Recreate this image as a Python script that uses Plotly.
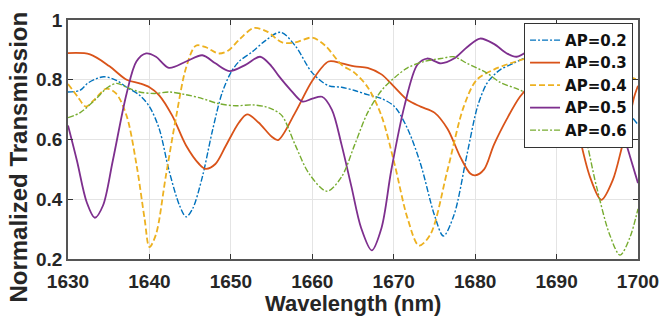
import plotly.graph_objects as go

# ---- data ----
wl_02 = [1630, 1631.5, 1632.5, 1634.4, 1636, 1637.2, 1638.8, 1640, 1641.2, 1642.4, 1643.7, 1644.5,
         1645.3, 1646.5, 1647.7, 1648.9, 1650, 1651, 1652.6, 1654.2, 1656.1, 1657.9, 1660, 1662,
         1663.6, 1665.2, 1666.8, 1668.5, 1670.1, 1671.7, 1673.3, 1675, 1676.1, 1677.4, 1679,
         1680.3, 1681.4, 1682.2, 1683.1, 1684.7, 1686.3, 1687.5, 1688.6, 1690.5, 1692.5, 1695,
         1698, 1700]
t_02 = [0.759, 0.765, 0.79, 0.81, 0.797, 0.775, 0.748, 0.71, 0.636, 0.497, 0.379, 0.341,
        0.368, 0.475, 0.625, 0.754, 0.824, 0.861, 0.893, 0.93, 0.959, 0.914, 0.823, 0.78,
        0.775, 0.764, 0.75, 0.737, 0.71, 0.636, 0.518, 0.347, 0.277, 0.347, 0.55,
        0.711, 0.786, 0.813, 0.834, 0.855, 0.877, 0.904, 0.936, 0.955, 0.94, 0.85,
        0.72, 0.65]

wl_03 = [1630, 1632.7, 1635.1, 1637.2, 1638.8, 1640, 1641.2, 1642.8, 1644.5, 1646.1, 1646.9,
         1648.1, 1649.4, 1651, 1652, 1653.4, 1655, 1655.8, 1657.9, 1660, 1662, 1663.6, 1665.2,
         1666.8, 1668.5, 1670.1, 1671.7, 1673.3, 1675, 1676.6, 1678.2, 1679.4, 1680, 1681.1,
         1682.3, 1683.9, 1685.5, 1687.1, 1688.6, 1690, 1691.5, 1692.6, 1694.1, 1695.5, 1696.9,
         1698.1, 1698.7, 1699.5, 1700]
t_03 = [0.889, 0.885, 0.845, 0.80, 0.788, 0.775, 0.748, 0.68, 0.58, 0.518, 0.502,
        0.518, 0.58, 0.657, 0.684, 0.657, 0.61, 0.598, 0.69, 0.797, 0.861, 0.855, 0.845,
        0.84, 0.818, 0.775, 0.732, 0.71, 0.69, 0.636, 0.54, 0.486, 0.48, 0.50,
        0.582, 0.669, 0.743, 0.791, 0.823, 0.835, 0.78, 0.636, 0.475, 0.398, 0.464,
        0.582, 0.636, 0.74, 0.78]

wl_04 = [1630, 1631.2, 1632.2, 1633.4, 1634.7, 1635.9, 1637.2, 1638.4, 1639.4, 1640, 1640.8,
         1642, 1643.3, 1644.5, 1645.7, 1646.9, 1648.5, 1649.7, 1651.1, 1652.8, 1654.4, 1656.3,
         1657.9, 1660, 1661.6, 1663.6, 1665.2, 1666.8, 1668.5, 1670.1, 1671.7, 1673.1, 1674.5,
         1676.6, 1678.6, 1680.2, 1682.3, 1684.3, 1686.3, 1688.6, 1691, 1694, 1697, 1700]
t_04 = [0.786, 0.743, 0.71, 0.738, 0.77, 0.754, 0.679, 0.518, 0.336, 0.24, 0.282,
        0.475, 0.679, 0.84, 0.914, 0.909, 0.888, 0.898, 0.936, 0.973, 0.962, 0.925,
        0.925, 0.941, 0.914, 0.85, 0.823, 0.775, 0.679, 0.518, 0.336, 0.245, 0.282,
        0.497, 0.71, 0.80, 0.834, 0.855, 0.871, 0.882, 0.89, 0.87, 0.83, 0.80]

wl_05 = [1630, 1631.1, 1632.3, 1633.3, 1634.3, 1635.5, 1637.2, 1638.4, 1639.6, 1640.8, 1642.4,
         1644.5, 1646.5, 1648.1, 1649.8, 1651.8, 1653.6, 1655, 1655.9, 1657.4, 1658.8, 1660,
         1661.2, 1662.4, 1663.6, 1664.8, 1666, 1667.3, 1668.5, 1669.7, 1671.3, 1672.9, 1674.1,
         1675.8, 1677.4, 1679, 1680.6, 1682.3, 1683.9, 1685.1, 1686.7, 1688.6, 1690.5, 1693,
         1695.5, 1697, 1698, 1699, 1700]
t_05 = [0.647, 0.529, 0.39, 0.338, 0.379, 0.529, 0.754, 0.861, 0.888, 0.877, 0.84,
        0.861, 0.882, 0.855, 0.829, 0.85, 0.877, 0.845, 0.812, 0.764, 0.727, 0.737,
        0.743, 0.70, 0.582, 0.443, 0.304, 0.229, 0.304, 0.497, 0.71, 0.85, 0.871,
        0.855, 0.871, 0.909, 0.938, 0.92, 0.888, 0.877, 0.9, 0.936, 0.945, 0.92,
        0.84, 0.74, 0.636, 0.545, 0.454]

wl_06 = [1630, 1631.5, 1633.3, 1634.9, 1636, 1637.2, 1638.8, 1640.6, 1642.4, 1644.5, 1646.5,
         1648.5, 1650.6, 1652.6, 1654.2, 1655.2, 1656.3, 1657.9, 1659.6, 1661.8, 1663.6, 1665.2,
         1666.8, 1668.5, 1670.1, 1671.7, 1673.7, 1675.8, 1677.4, 1679, 1681.4, 1683.1, 1685.1,
         1687.1, 1688.6, 1690.5, 1692, 1693.2, 1694.9, 1696.5, 1697.8, 1699, 1700]
t_06 = [0.673, 0.69, 0.732, 0.775, 0.788, 0.775, 0.759, 0.754, 0.759, 0.75, 0.737,
        0.72, 0.713, 0.716, 0.71, 0.70, 0.679, 0.582, 0.486, 0.427, 0.475, 0.582,
        0.69, 0.764, 0.807, 0.84, 0.861, 0.871, 0.877, 0.855, 0.823, 0.791, 0.77,
        0.748, 0.743, 0.73, 0.69, 0.636, 0.443, 0.283, 0.213, 0.272, 0.368]

labels = ["AP=0.2", "AP=0.3", "AP=0.4", "AP=0.5", "AP=0.6"]
x_ticks = [1630, 1640, 1650, 1660, 1670, 1680, 1690, 1700]
y_ticks = [0.2, 0.4, 0.6, 0.8, 1.0]
y_tick_text = ["0.2", "0.4", "0.6", "0.8", "1"]
x_title = "Wavelength (nm)"
y_title = "Normalized Transmission"

series = [(wl_02, t_02), (wl_03, t_03), (wl_04, t_04), (wl_05, t_05), (wl_06, t_06)]
colors = ["#0072BD", "#D95319", "#EDB120", "#7E2F8E", "#77AC30"]
dashes = ["6px,2px,2px,2px", "solid", "6px,3px", "solid", "6px,2px,2px,2px"]
widths = [1.4, 1.8, 1.8, 1.8, 1.4]

FONT = "Liberation Sans, Arial, sans-serif"
W, H = 669, 316
ML, MR, MT, MB = 68, 27, 10, 57
PW, PH = W - ML - MR, H - MT - MB

fig = go.Figure()
for (x, y), name, c, d, w in zip(series, labels, colors, dashes, widths):
    fig.add_trace(go.Scatter(
        x=x, y=y, mode="lines", name=name,
        line=dict(color=c, dash=d, width=w, shape="spline", smoothing=0.9),
    ))

axis_common = dict(
    showline=True, linecolor="#555555", linewidth=1.5, mirror="allticks",
    ticks="inside", ticklen=5, tickwidth=1.2, tickcolor="#333333",
    showgrid=True, gridcolor="#e4e4e4", gridwidth=1, zeroline=False,
    tickfont=dict(family=FONT, size=19, color="#262626", weight="bold"),
)

fig.update_layout(
    width=W, height=H,
    margin=dict(l=ML, r=MR, t=MT, b=MB),
    paper_bgcolor="white", plot_bgcolor="white",
    font=dict(family=FONT, color="#262626"),
    xaxis=dict(range=[1630, 1700], tickvals=x_ticks, ticklabelstandoff=4, **axis_common),
    yaxis=dict(range=[0.2, 1.0], tickvals=y_ticks, ticktext=y_tick_text, **axis_common),
    legend=dict(x=(637 - ML) / PW, y=1 - (13 - MT) / PH, xanchor="right", yanchor="top",
                bgcolor="white", bordercolor="#333333", borderwidth=1,
                font=dict(family="DejaVu Sans, sans-serif", size=15, color="#111111", weight="bold"),
                itemwidth=30, tracegroupgap=0),
    annotations=[
        dict(text="<b>%s</b>" % x_title, xref="paper", yref="paper",
             x=(355 - ML) / PW, y=1 - (305 - MT) / PH, xanchor="center", yanchor="middle",
             showarrow=False, font=dict(family=FONT, size=22, color="#262626")),
        dict(text="<b>%s</b>" % y_title, xref="paper", yref="paper", textangle=-90,
             x=(18 - ML) / PW, y=1 - (153 - MT) / PH, xanchor="center", yanchor="middle",
             showarrow=False, font=dict(family=FONT, size=24, color="#262626")),
    ],
)

fig.write_html("out.html", config={"displayModeBar": False},
               post_script="document.body.style.margin='0px';")
